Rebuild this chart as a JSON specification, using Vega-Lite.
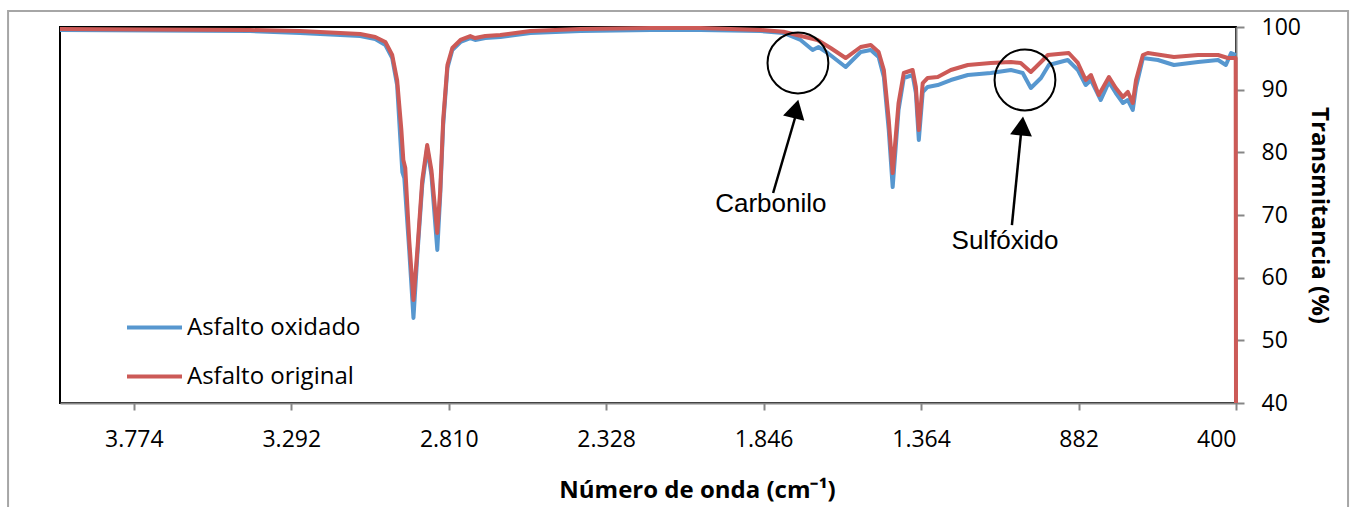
{
  "$schema": "https://vega.github.io/schema/vega-lite/v6.json",
  "autosize": {"type": "none"},
  "padding": {"left": 60, "top": 27, "right": 115, "bottom": 104},
  "width": 1176,
  "height": 376,
  "background": "#ffffff",
  "config": {
    "view": {"stroke": "#000000", "strokeWidth": 2},
    "axis": {"grid": false}
  },
  "datasets": {
    "ox": [
      {"s":"Asfalto oxidado","v":4000,"t":99.52},{"s":"Asfalto oxidado","v":3418,"t":99.36},{"s":"Asfalto oxidado","v":3265,"t":99.04},{"s":"Asfalto oxidado","v":3142,"t":98.72},{"s":"Asfalto oxidado","v":3081,"t":98.56},{"s":"Asfalto oxidado","v":3035,"t":98.09},{"s":"Asfalto oxidado","v":3004,"t":97.13},{"s":"Asfalto oxidado","v":2983,"t":95.05},{"s":"Asfalto oxidado","v":2968,"t":90.74},{"s":"Asfalto oxidado","v":2958,"t":81.97},{"s":"Asfalto oxidado","v":2952,"t":76.86},{"s":"Asfalto oxidado","v":2946,"t":75.9},{"s":"Asfalto oxidado","v":2931,"t":64.42},{"s":"Asfalto oxidado","v":2918,"t":53.57},{"s":"Asfalto oxidado","v":2906,"t":63.62},{"s":"Asfalto oxidado","v":2891,"t":74.79},{"s":"Asfalto oxidado","v":2876,"t":80.69},{"s":"Asfalto oxidado","v":2863,"t":76.38},{"s":"Asfalto oxidado","v":2845,"t":64.42},{"s":"Asfalto oxidado","v":2836,"t":73.19},{"s":"Asfalto oxidado","v":2827,"t":84.36},{"s":"Asfalto oxidado","v":2814,"t":93.46},{"s":"Asfalto oxidado","v":2799,"t":96.33},{"s":"Asfalto oxidado","v":2774,"t":97.61},{"s":"Asfalto oxidado","v":2744,"t":98.24},{"s":"Asfalto oxidado","v":2729,"t":97.93},{"s":"Asfalto oxidado","v":2698,"t":98.24},{"s":"Asfalto oxidado","v":2652,"t":98.4},{"s":"Asfalto oxidado","v":2560,"t":99.04},{"s":"Asfalto oxidado","v":2407,"t":99.36},{"s":"Asfalto oxidado","v":2192,"t":99.52},{"s":"Asfalto oxidado","v":2039,"t":99.52},{"s":"Asfalto oxidado","v":1855,"t":99.36},{"s":"Asfalto oxidado","v":1785,"t":99.04},{"s":"Asfalto oxidado","v":1733,"t":97.93},{"s":"Asfalto oxidado","v":1696,"t":96.33},{"s":"Asfalto oxidado","v":1678,"t":96.81},{"s":"Asfalto oxidado","v":1650,"t":95.85},{"s":"Asfalto oxidado","v":1595,"t":93.62},{"s":"Asfalto oxidado","v":1549,"t":96.01},{"s":"Asfalto oxidado","v":1518,"t":96.33},{"s":"Asfalto oxidado","v":1494,"t":95.21},{"s":"Asfalto oxidado","v":1478,"t":92.02},{"s":"Asfalto oxidado","v":1463,"t":83.56},{"s":"Asfalto oxidado","v":1451,"t":74.47},{"s":"Asfalto oxidado","v":1433,"t":86.76},{"s":"Asfalto oxidado","v":1417,"t":91.86},{"s":"Asfalto oxidado","v":1390,"t":92.34},{"s":"Asfalto oxidado","v":1380,"t":89.47},{"s":"Asfalto oxidado","v":1371,"t":81.97},{"s":"Asfalto oxidado","v":1359,"t":89.63},{"s":"Asfalto oxidado","v":1344,"t":90.43},{"s":"Asfalto oxidado","v":1313,"t":90.74},{"s":"Asfalto oxidado","v":1273,"t":91.54},{"s":"Asfalto oxidado","v":1221,"t":92.34},{"s":"Asfalto oxidado","v":1151,"t":92.66},{"s":"Asfalto oxidado","v":1089,"t":93.14},{"s":"Asfalto oxidado","v":1053,"t":92.66},{"s":"Asfalto oxidado","v":1028,"t":90.27},{"s":"Asfalto oxidado","v":997,"t":91.86},{"s":"Asfalto oxidado","v":973,"t":93.94},{"s":"Asfalto oxidado","v":915,"t":94.73},{"s":"Asfalto oxidado","v":884,"t":93.14},{"s":"Asfalto oxidado","v":860,"t":90.74},{"s":"Asfalto oxidado","v":844,"t":91.54},{"s":"Asfalto oxidado","v":814,"t":88.35},{"s":"Asfalto oxidado","v":789,"t":91.22},{"s":"Asfalto oxidado","v":768,"t":89.47},{"s":"Asfalto oxidado","v":746,"t":87.87},{"s":"Asfalto oxidado","v":731,"t":88.35},{"s":"Asfalto oxidado","v":716,"t":86.76},{"s":"Asfalto oxidado","v":706,"t":90.43},{"s":"Asfalto oxidado","v":685,"t":95.05},{"s":"Asfalto oxidado","v":639,"t":94.73},{"s":"Asfalto oxidado","v":590,"t":93.94},{"s":"Asfalto oxidado","v":516,"t":94.42},{"s":"Asfalto oxidado","v":455,"t":94.73},{"s":"Asfalto oxidado","v":431,"t":93.94},{"s":"Asfalto oxidado","v":415,"t":95.85},{"s":"Asfalto oxidado","v":400,"t":95.53}
    ],
    "or": [
      {"s":"Asfalto original","v":4000,"t":99.68},{"s":"Asfalto original","v":3724,"t":99.6},{"s":"Asfalto original","v":3418,"t":99.52},{"s":"Asfalto original","v":3265,"t":99.36},{"s":"Asfalto original","v":3142,"t":99.04},{"s":"Asfalto original","v":3081,"t":98.88},{"s":"Asfalto original","v":3035,"t":98.4},{"s":"Asfalto original","v":3004,"t":97.61},{"s":"Asfalto original","v":2983,"t":95.53},{"s":"Asfalto original","v":2968,"t":91.54},{"s":"Asfalto original","v":2955,"t":83.56},{"s":"Asfalto original","v":2949,"t":78.78},{"s":"Asfalto original","v":2943,"t":77.5},{"s":"Asfalto original","v":2931,"t":66.01},{"s":"Asfalto original","v":2918,"t":56.44},{"s":"Asfalto original","v":2906,"t":64.42},{"s":"Asfalto original","v":2891,"t":75.59},{"s":"Asfalto original","v":2876,"t":81.17},{"s":"Asfalto original","v":2863,"t":77.18},{"s":"Asfalto original","v":2845,"t":67.13},{"s":"Asfalto original","v":2836,"t":73.99},{"s":"Asfalto original","v":2827,"t":85.16},{"s":"Asfalto original","v":2814,"t":93.94},{"s":"Asfalto original","v":2799,"t":96.65},{"s":"Asfalto original","v":2774,"t":97.93},{"s":"Asfalto original","v":2744,"t":98.56},{"s":"Asfalto original","v":2729,"t":98.24},{"s":"Asfalto original","v":2698,"t":98.56},{"s":"Asfalto original","v":2652,"t":98.72},{"s":"Asfalto original","v":2560,"t":99.36},{"s":"Asfalto original","v":2407,"t":99.68},{"s":"Asfalto original","v":2192,"t":99.84},{"s":"Asfalto original","v":2039,"t":99.84},{"s":"Asfalto original","v":1855,"t":99.52},{"s":"Asfalto original","v":1785,"t":99.25},{"s":"Asfalto original","v":1681,"t":97.93},{"s":"Asfalto original","v":1641,"t":96.65},{"s":"Asfalto original","v":1595,"t":95.05},{"s":"Asfalto original","v":1549,"t":96.81},{"s":"Asfalto original","v":1518,"t":97.13},{"s":"Asfalto original","v":1494,"t":96.01},{"s":"Asfalto original","v":1478,"t":93.14},{"s":"Asfalto original","v":1463,"t":85.16},{"s":"Asfalto original","v":1451,"t":76.7},{"s":"Asfalto original","v":1433,"t":87.87},{"s":"Asfalto original","v":1417,"t":92.66},{"s":"Asfalto original","v":1390,"t":93.14},{"s":"Asfalto original","v":1380,"t":90.43},{"s":"Asfalto original","v":1371,"t":83.56},{"s":"Asfalto original","v":1359,"t":91.06},{"s":"Asfalto original","v":1344,"t":91.86},{"s":"Asfalto original","v":1313,"t":92.02},{"s":"Asfalto original","v":1273,"t":93.14},{"s":"Asfalto original","v":1221,"t":93.94},{"s":"Asfalto original","v":1151,"t":94.26},{"s":"Asfalto original","v":1089,"t":94.42},{"s":"Asfalto original","v":1059,"t":94.26},{"s":"Asfalto original","v":1028,"t":92.82},{"s":"Asfalto original","v":997,"t":94.42},{"s":"Asfalto original","v":976,"t":95.53},{"s":"Asfalto original","v":912,"t":95.85},{"s":"Asfalto original","v":884,"t":94.26},{"s":"Asfalto original","v":860,"t":91.54},{"s":"Asfalto original","v":844,"t":92.34},{"s":"Asfalto original","v":820,"t":89.15},{"s":"Asfalto original","v":789,"t":92.02},{"s":"Asfalto original","v":768,"t":90.27},{"s":"Asfalto original","v":746,"t":88.83},{"s":"Asfalto original","v":731,"t":89.63},{"s":"Asfalto original","v":716,"t":87.87},{"s":"Asfalto original","v":706,"t":91.54},{"s":"Asfalto original","v":685,"t":95.53},{"s":"Asfalto original","v":670,"t":95.85},{"s":"Asfalto original","v":590,"t":95.21},{"s":"Asfalto original","v":516,"t":95.53},{"s":"Asfalto original","v":455,"t":95.53},{"s":"Asfalto original","v":425,"t":95.05},{"s":"Asfalto original","v":401,"t":95.05},{"s":"Asfalto original","v":400,"t":40}
    ],
    "frame": [{"v":4159,"v2":57,"t":102.55,"t2":22.1}],
    "circles": [{"v":1741,"t":94.26},{"v":1046,"t":91.54}],
    "shafts": [{"v":1817,"t":73.51,"v2":1750,"t2":85.48},{"v":1086,"t":68.4,"v2":1058,"t2":83.09}],
    "heads": [{"v":1747,"t":86.92,"a":14},{"v":1055,"t":84.2,"a":6}],
    "notes": [{"v":1824,"t":71.76,"label":"Carbonilo"},{"v":1107,"t":65.85,"label":"Sulfóxido"}]
  },
  "encoding": {
    "x": {
      "field": "v", "type": "quantitative",
      "scale": {"domain": [400, 4000], "reverse": true, "nice": false, "zero": false},
      "axis": {
        "orient": "bottom",
        "values": [3774, 3292, 2810, 2328, 1846, 1364, 882, 400],
        "labelExpr": "replace(format(datum.value, ','), ',', '.')",
        "domainColor": "#868686", "domainWidth": 2,
        "tickColor": "#868686", "tickWidth": 2, "tickSize": 7,
        "labelFont": "Open Sans", "labelFontSize": 23, "labelColor": "#000000",
        "labelBaseline": "middle", "labelPadding": 29,
        "title": "Número de onda (cm⁻¹)",
        "titleFont": "Open Sans", "titleFontSize": 24, "titleFontWeight": "bold", "titleColor": "#000000",
        "titleX": 637, "titleBaseline": "middle", "titleY": 87
      }
    },
    "y": {
      "field": "t", "type": "quantitative",
      "scale": {"domain": [40, 100], "nice": false, "zero": false},
      "axis": {
        "orient": "right",
        "values": [40, 50, 60, 70, 80, 90, 100],
        "domainColor": "#868686", "domainWidth": 2,
        "tickColor": "#868686", "tickWidth": 2, "tickSize": 8,
        "labelFont": "Open Sans", "labelFontSize": 23, "labelColor": "#000000",
        "labelPadding": 17,
        "title": "Transmitancia (%)",
        "titleFont": "Open Sans", "titleFontSize": 24, "titleFontWeight": "bold", "titleColor": "#000000",
        "titlePadding": 6
      }
    }
  },
  "layer": [
    {
      "data": {"name": "frame"},
      "mark": {"type": "rect", "filled": false, "stroke": "#A6A6A6", "strokeWidth": 2, "clip": false},
      "encoding": {"x2": {"field": "v2"}, "y2": {"field": "t2"}}
    },
    {
      "data": {"name": "ox"},
      "mark": {"type": "line", "strokeWidth": 4, "strokeJoin": "round"},
      "encoding": {
        "color": {
          "field": "s", "type": "nominal",
          "scale": {"domain": ["Asfalto oxidado", "Asfalto original"], "range": ["#5797CF", "#CC5A57"]},
          "legend": {
            "title": null, "orient": "none", "legendX": 65, "legendY": 271, "direction": "vertical",
            "padding": 0, "symbolType": "stroke", "symbolSize": 3025, "symbolStrokeWidth": 4,
            "labelFont": "Open Sans", "labelFontSize": 24, "labelColor": "#000000", "labelOffset": 3,
            "rowPadding": 7, "labelLimit": 400
          }
        }
      }
    },
    {
      "data": {"name": "or"},
      "mark": {"type": "line", "strokeWidth": 4, "strokeJoin": "round"},
      "encoding": {
        "color": {"field": "s", "type": "nominal"}
      }
    },
    {
      "data": {"name": "circles"},
      "mark": {"type": "point", "shape": "circle", "filled": false, "stroke": "#000000", "strokeWidth": 2, "size": 3700, "opacity": 1}
    },
    {
      "data": {"name": "shafts"},
      "mark": {"type": "rule", "stroke": "#000000", "strokeWidth": 2.5},
      "encoding": {"x2": {"field": "v2"}, "y2": {"field": "t2"}}
    },
    {
      "data": {"name": "heads"},
      "mark": {"type": "point", "shape": "triangle-up", "filled": true, "color": "#000000", "size": 480, "opacity": 1},
      "encoding": {"angle": {"field": "a", "type": "quantitative", "scale": null}}
    },
    {
      "data": {"name": "notes"},
      "mark": {"type": "text", "font": "Liberation Sans", "fontSize": 26, "color": "#000000", "align": "center", "baseline": "middle"},
      "encoding": {"text": {"field": "label"}}
    }
  ]
}
